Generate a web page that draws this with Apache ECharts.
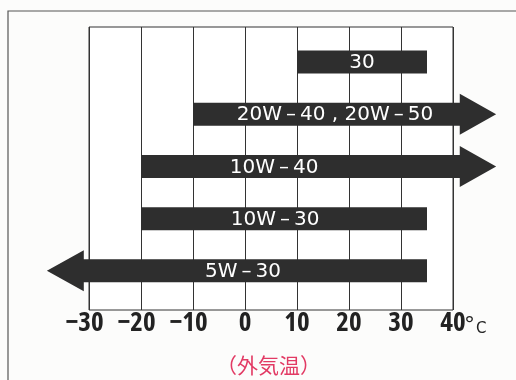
<!DOCTYPE html>
<html><head><meta charset="utf-8">
<script src="https://cdn.jsdelivr.net/npm/echarts@6/dist/echarts.min.js"></script>
<style>html,body{margin:0;padding:0;background:#fcfcfb;}#c{width:516px;height:380px;}</style>
</head><body><div id="c"></div>
<script>
// Oil grades and their usable outside-temperature ranges (°C)
const categories = ['30', '20W-40 , 20W-50', '10W-40', '10W-30', '5W-30'];
const startVals  = [10, -10, -20, -20, 35];
const endVals    = [35, 41.3, 41.3, 35, -31];     // end of bar body
const arrowTips  = [null, 48.3, 48.3, null, -38.1]; // arrow tip (null = no arrow)
const labelPos   = [22.5, 17.3, 5.6, 5.8, -0.4];   // label centre
const tickVals   = [-30, -20, -10, 0, 10, 20, 30, 40];
const unitLabel  = '°C';
const axisTitle  = '（外気温）';

const rows = categories.map((c, i) => [i, startVals[i], endVals[i], arrowTips[i], labelPos[i], c]);
const showName = s => s.replace(/-/g, '\u2009\u2013\u2009');

const chart = echarts.init(document.getElementById('c'));
const barColor = '#2e2e2e';
const tickFont = '"Open Sans"';
chart.setOption({
  backgroundColor: '#fcfcfb',
  animation: false,
  graphic: [{
    type: 'rect', shape: { x: 8, y: 11, width: 600, height: 500 },
    style: { fill: 'none', stroke: '#555', lineWidth: 1.2 }, silent: true, z: 0
  }],
  title: {
    text: axisTitle, left: 211, top: 350,
    textStyle: { color: '#e23a64', fontSize: 21, fontWeight: 'normal', fontFamily: 'Noto Sans CJK JP' }
  },
  grid: { left: 89, right: 63, top: 27, bottom: 70, show: true, borderColor: '#333', borderWidth: 1, backgroundColor: '#fff' },
  xAxis: {
    type: 'value', min: -30, max: 40, interval: 10,
    axisLine: { show: false, onZero: false }, axisTick: { show: false },
    splitLine: { show: true, lineStyle: { color: '#333', width: 1 } },
    name: '{d|' + unitLabel[0] + '}{c|' + unitLabel[1] + '}', nameLocation: 'end', nameGap: 11,
    nameMoveOverlap: false,
    nameTextStyle: {
      verticalAlign: 'top', align: 'left', padding: [5, 0, 0, 0],
      rich: {
        d: { fontSize: 22, fontFamily: 'DejaVu Sans', color: '#222', verticalAlign: 'bottom' },
        c: { fontSize: 15, fontFamily: 'DejaVu Sans', color: '#222', verticalAlign: 'bottom', padding: [0, 0, 0, 1] }
      }
    },
    axisLabel: {
      margin: 0, color: '#222',
      fontFamily: tickFont, fontWeight: 'bold', fontStyle: 'condensed', fontSize: 27,
      formatter: v => v < 0 ? '{n|\u2212' + Math.abs(v) + '}' : '' + v,
      rich: { n: { padding: [0, 9, 0, 0], fontFamily: tickFont, fontWeight: 'bold', fontStyle: 'condensed', fontSize: 27, color: '#222' } }
    }
  },
  yAxis: { type: 'value', inverse: true, min: -0.67, max: 4.75, show: false, splitLine: { show: false } },
  series: [{
    type: 'custom',
    data: rows,
    clip: false,
    renderItem: function (params, api) {
      const row = api.value(0);
      const s = api.coord([api.value(1), row]);
      const e = api.coord([api.value(2), row]);
      const tipV = rows[params.dataIndex][3];
      const y = s[1];
      const hb = 11.5, hh = 20.5;
      let pts;
      if (tipV !== null && tipV !== undefined) {
        const t = api.coord([tipV, row]);
        pts = [[s[0], y - hb], [e[0], y - hb], [e[0], y - hh], [t[0], y], [e[0], y + hh], [e[0], y + hb], [s[0], y + hb]];
      } else {
        pts = [[s[0], y - hb], [e[0], y - hb], [e[0], y + hb], [s[0], y + hb]];
      }
      const lp = api.coord([rows[params.dataIndex][4], row]);
      return {
        type: 'group',
        children: [
          { type: 'polygon', shape: { points: pts }, style: { fill: barColor } },
          { type: 'text', style: { text: showName(rows[params.dataIndex][5]), x: lp[0], y: y + 1, align: 'center', verticalAlign: 'middle',
              fill: '#fff', font: '500 20px "DejaVu Sans", sans-serif' } }
        ]
      };
    }
  }]
});
</script></body></html>
